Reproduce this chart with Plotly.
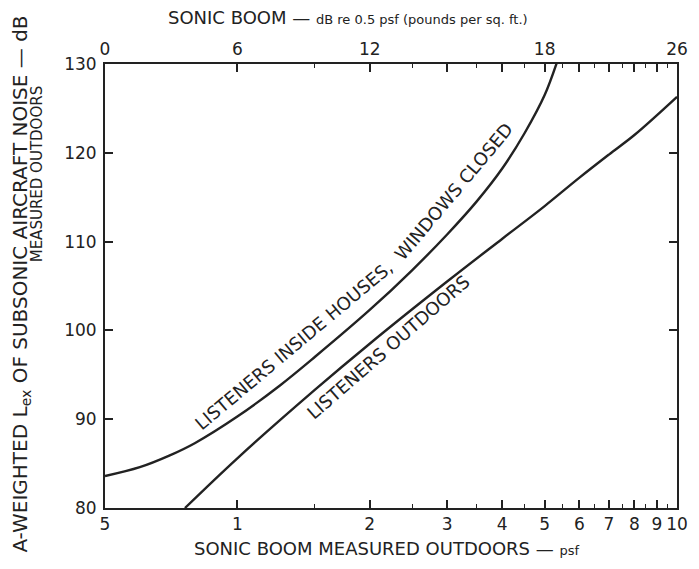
import math
import plotly.graph_objects as go

# ---- data ----
inside_psf = [0.5, 0.6, 0.7, 0.8, 1.0, 1.25, 1.5, 2.0, 2.5, 3.0, 3.5, 4.0, 4.5, 5.0, 5.4]
inside_db = [83.6, 84.6, 85.9, 87.3, 90.3, 93.8, 97.0, 102.3, 106.8, 110.8, 114.5, 118.2, 122.2, 126.5, 131.0]

outdoor_psf = [0.76, 1.0, 1.5, 2.0, 3.0, 4.0, 5.0, 6.0, 7.0, 8.0, 10.0]
outdoor_db = [80.0, 85.6, 93.3, 98.5, 105.5, 110.3, 114.0, 117.2, 119.8, 122.0, 126.3]

bottom_tickvals = [0.5, 1, 2, 3, 4, 5, 6, 7, 8, 9, 10]
bottom_ticktext = ["5", "1", "2", "3", "4", "5", "6", "7", "8", "9", "10"]
minor_vals = [1.5, 2.5, 3.5, 4.5, 5.5, 6.5, 7.5, 8.5, 9.5]

top_tickvals = [0.5, 1, 2, 5, 10]
top_ticktext = ["0", "6", "12", "18", "26"]
top_unlabeled = [3, 4, 6, 7, 8, 9]

y_tickvals = [80, 90, 100, 110, 120, 130]

FONT = "DejaVu Sans"
INK = "#222222"

fig = go.Figure()
fig.add_trace(go.Scatter(x=inside_psf, y=inside_db, mode="lines",
                         line=dict(color=INK, width=2.4, shape="spline"),
                         showlegend=False, hoverinfo="skip"))
fig.add_trace(go.Scatter(x=outdoor_psf, y=outdoor_db, mode="lines",
                         line=dict(color=INK, width=2.4, shape="spline"),
                         showlegend=False, hoverinfo="skip"))
# invisible traces carrying the top axes
for ax in ("x2", "x3"):
    fig.add_trace(go.Scatter(x=[0.5, 10], y=[80, 80], xaxis=ax, mode="markers",
                             marker=dict(opacity=0), showlegend=False, hoverinfo="skip"))

xr = [math.log10(0.5), math.log10(10)]
tick_style = dict(ticks="inside", ticklen=8, tickwidth=1.5, tickcolor=INK,
                  showgrid=False, zeroline=False, tickfont=dict(size=17))
line_style = dict(showline=True, linecolor=INK, linewidth=2)
minor_style = dict(tickvals=minor_vals, ticks="inside", ticklen=4, tickwidth=1.2,
                   tickcolor=INK, showgrid=False)

fig.update_layout(
    width=699, height=569, autosize=False,
    margin=dict(l=105, r=11, t=64, b=61),
    paper_bgcolor="white", plot_bgcolor="white",
    font=dict(family=FONT, size=17, color=INK),
    xaxis=dict(type="log", range=xr, tickvals=bottom_tickvals, ticktext=bottom_ticktext,
               minor=minor_style, **tick_style, **line_style),
    xaxis2=dict(type="log", range=xr, overlaying="x", side="top", anchor="y",
                tickvals=top_tickvals, ticktext=top_ticktext,
                minor=minor_style, **tick_style, **line_style),
    xaxis3=dict(type="log", range=xr, overlaying="x", side="top", anchor="y",
                tickvals=top_unlabeled, showticklabels=False, showline=False,
                **tick_style),
    yaxis=dict(range=[80, 130], tickvals=y_tickvals, mirror="ticks",
               ticklabelstandoff=3, **tick_style, **line_style),
)


def px(x):
    return (x - 105) / 583.0


def py(y):
    return (508 - y) / 444.0


ann = []
# axis titles
ann.append(dict(text="A-WEIGHTED L<sub>ex</sub> OF SUBSONIC AIRCRAFT NOISE — dB",
                x=px(19), y=py(284), textangle=-90, font=dict(size=20)))
ann.append(dict(text="MEASURED OUTDOORS", x=px(36), y=py(174), textangle=-90,
                font=dict(size=15)))
ann.append(dict(text="SONIC BOOM MEASURED OUTDOORS — <span style='font-size:13px'>psf</span>",
                x=px(392), y=py(548), font=dict(size=18)))
ann.append(dict(text="SONIC BOOM — <span style='font-size:13px'>dB re 0.5 psf (pounds per sq. ft.)</span>",
                x=px(353), y=py(18), font=dict(size=18)))
# curve labels
for t, x, y, a in [("LISTENERS INSIDE HOUSES,", 297, 345, -40),
                   ("WINDOWS CLOSED", 460, 191, -50),
                   ("LISTENERS OUTDOORS", 393, 347, -41)]:
    ann.append(dict(text=t, x=px(x), y=py(y), textangle=a, font=dict(size=18)))

for a in ann:
    a.update(xref="paper", yref="paper", showarrow=False, xanchor="center", yanchor="middle")
fig.update_layout(annotations=ann)

post = ("document.documentElement.style.overflow='hidden';"
        "document.body.style.margin='0';document.body.style.overflow='hidden';")
fig.write_html("out.html", post_script=post, config={"displayModeBar": False})
